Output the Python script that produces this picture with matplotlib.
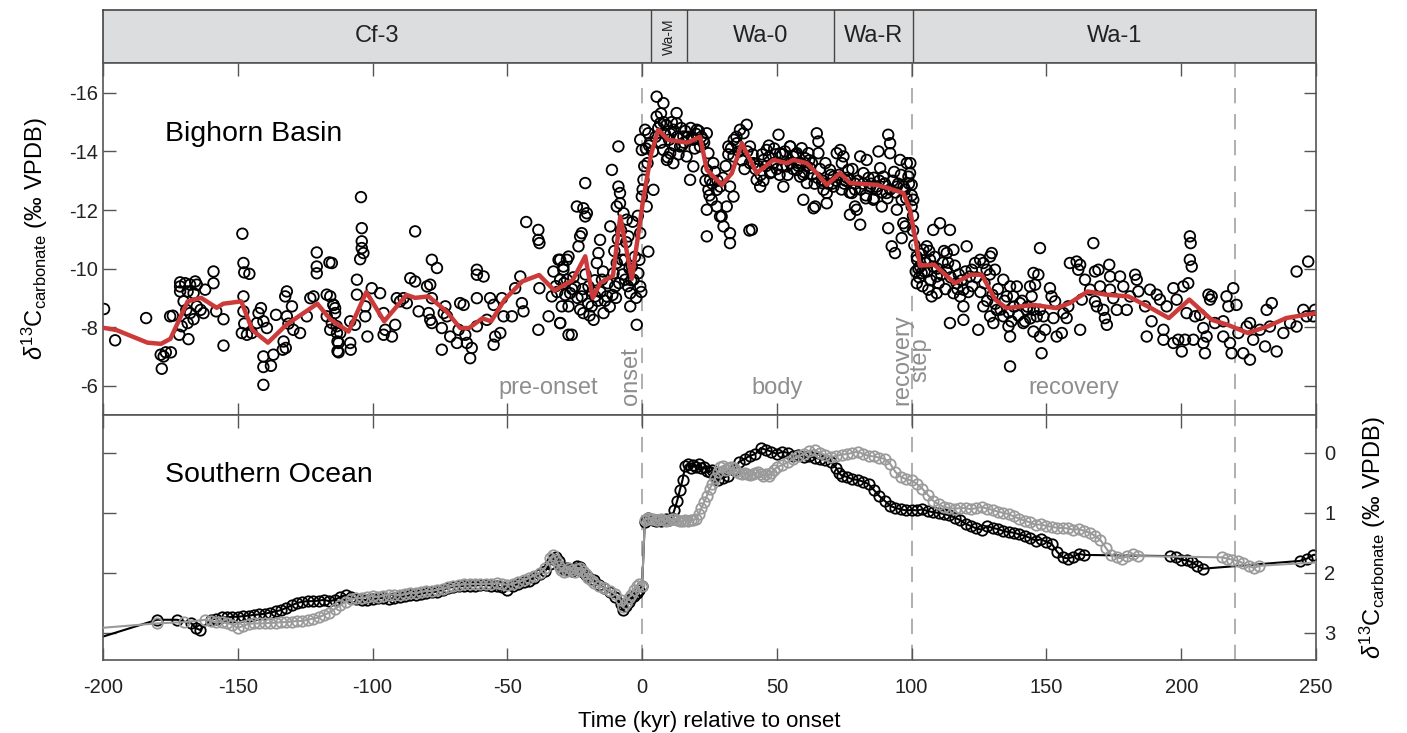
import matplotlib.pyplot as plt

plt.rcParams['font.family'] = ['Liberation Sans', 'DejaVu Sans']
plt.rcParams['mathtext.fontset'] = 'custom'
plt.rcParams['mathtext.rm'] = 'Liberation Sans'
plt.rcParams['mathtext.it'] = 'Liberation Sans:italic'
plt.rcParams['axes.unicode_minus'] = False

# ── zonas bioestratigráficas ────────────────────────────────────────────────
zone_names = ['Cf-3', 'Wa-M', 'Wa-0', 'Wa-R', 'Wa-1']
zone_edges = [-200, 3.3, 16.7, 71.2, 100.5, 250]

# ── Bighorn Basin: puntos (kyr, d13C) ────────────────────────────────────────
bb_cf3_early = [
    (-199.6, -8.62), (-195.5, -7.55), (-184.0, -8.31), (-178.2, -6.58), (-178.6, -7.06), (-176.7, -7.14),
    (-174.8, -7.14), (-177.5, -7.00), (-175.1, -8.37), (-174.1, -8.39), (-171.4, -9.53), (-171.4, -9.39),
    (-169.5, -9.50), (-167.7, -9.45), (-165.8, -9.56), (-165.2, -9.45), (-171.4, -9.22), (-168.6, -9.22),
    (-166.4, -9.16), (-170.1, -8.88), (-169.1, -8.59), (-167.7, -8.48), (-166.4, -8.27), (-168.6, -8.14),
    (-170.8, -8.03), (-171.7, -7.74), (-168.3, -7.59), (-163.8, -8.59), (-162.7, -8.48), (-165.2, -8.71),
    (-162.1, -9.28), (-159.0, -9.90), (-159.0, -9.50), (-158.0, -8.54), (-155.3, -8.27), (-155.3, -7.37),
    (-148.3, -11.19), (-147.9, -10.19), (-147.6, -9.87), (-145.7, -9.82), (-147.9, -9.05), (-147.9, -8.54),
    (-147.6, -8.12), (-148.5, -7.80), (-146.6, -7.74), (-144.8, -7.80), (-142.9, -8.14), (-141.4, -8.65),
    (-142.3, -8.48), (-140.5, -8.20), (-139.2, -7.97), (-140.5, -7.00), (-140.5, -6.64), (-137.7, -6.68),
    (-136.8, -7.06), (-140.5, -6.03), (-135.8, -8.42), (-132.4, -9.05), (-131.8, -9.22), (-129.9, -8.71),
    (-131.8, -8.37), (-131.2, -8.12), (-133.0, -7.51), (-132.2, -7.29), (-133.3, -7.23), (-129.4, -7.91),
    (-126.9, -7.80), (-124.4, -8.37), (-123.1, -8.99), (-121.9, -9.05), (-120.7, -10.55), (-120.7, -10.07),
    (-120.7, -9.84), (-116.0, -10.21), (-117.0, -9.11), (-114.5, -8.76), (-117.0, -8.37), (-115.7, -7.91),
    (-113.2, -7.80), (-113.0, -7.51), (-113.0, -7.18), (-113.9, -8.65),
]
bb_cf3_late = [
    (-115.1, -10.19), (-115.7, -9.05), (-114.5, -8.76), (-113.9, -8.48), (-115.1, -8.14), (-113.3, -8.03),
    (-112.0, -7.80), (-112.6, -7.46), (-112.6, -7.14), (-108.3, -7.46), (-108.1, -7.23), (-108.3, -8.20),
    (-106.5, -8.08), (-105.8, -9.62), (-105.8, -9.11), (-104.3, -12.44), (-104.0, -11.38), (-104.0, -10.93),
    (-104.0, -10.70), (-103.4, -10.53), (-104.6, -10.32), (-102.7, -8.37), (-102.7, -8.71), (-101.9, -7.68),
    (-100.3, -9.33), (-97.2, -9.16), (-95.9, -8.48), (-95.3, -7.91), (-95.9, -7.74), (-92.8, -7.68),
    (-91.6, -8.08), (-91.0, -8.99), (-89.8, -8.88), (-88.5, -8.99), (-87.3, -8.82), (-86.0, -9.67),
    (-84.2, -9.56), (-84.2, -11.27), (-82.9, -8.54), (-79.8, -9.39), (-78.6, -9.45), (-78.0, -8.99),
    (-79.2, -8.48), (-78.6, -8.25), (-78.0, -8.14), (-78.0, -10.30), (-76.1, -10.02), (-73.6, -8.48),
    (-74.3, -7.97), (-73.0, -8.71), (-72.4, -8.37), (-74.3, -7.23), (-71.2, -7.68), (-68.7, -7.46),
    (-68.1, -7.91), (-67.5, -8.82), (-66.2, -8.76), (-65.6, -7.74), (-65.0, -7.46), (-63.8, -6.94),
    (-63.2, -7.29), (-61.3, -8.99), (-61.3, -9.96), (-61.3, -9.79), (-58.8, -9.73), (-61.3, -8.03),
    (-57.6, -8.25), (-56.4, -8.99), (-55.1, -8.76), (-54.5, -7.68), (-55.1, -7.40), (-52.6, -7.80),
    (-52.0, -8.99), (-51.4, -8.37), (-48.3, -8.37), (-47.1, -9.33), (-45.2, -9.73), (-44.6, -8.82),
    (-44.0, -8.54), (-43.0, -11.59), (-38.5, -11.32), (-38.5, -10.98), (-38.1, -10.87), (-38.5, -7.91),
    (-38.1, -9.33), (-34.7, -8.37), (-33.5, -9.05), (-32.9, -9.90), (-31.0, -10.30), (-30.4, -9.62),
    (-30.4, -8.14), (-29.2, -9.96), (-27.9, -10.30), (-27.3, -7.74), (-27.3, -8.71), (-32.0, -9.40),
    (-31.5, -9.20), (-29.0, -9.50), (-28.5, -9.10), (-26.0, -9.30), (-25.5, -9.70),
]
bb_onset = [
    (-30.4, -10.30), (-29.2, -10.07), (-27.9, -9.62), (-26.7, -9.16), (-29.8, -8.71), (-30.4, -8.14),
    (-26.1, -7.74), (-27.3, -10.41), (-24.9, -9.39), (-24.2, -12.12), (-23.0, -11.10), (-22.4, -11.21),
    (-21.8, -12.06), (-21.1, -11.78), (-20.5, -11.89), (-22.4, -9.05), (-21.8, -8.48), (-21.1, -12.92),
    (-23.6, -10.76), (-19.9, -9.39), (-18.7, -8.71), (-18.0, -8.25), (-16.8, -10.19), (-16.2, -10.53),
    (-15.6, -10.98), (-14.9, -9.62), (-14.3, -8.48), (-17.4, -9.05), (-13.1, -9.05), (-11.8, -11.44),
    (-11.2, -13.37), (-10.6, -9.84), (-10.0, -9.39), (-9.4, -10.19), (-8.8, -14.17), (-8.8, -12.80),
    (-8.2, -12.58), (-9.4, -12.12), (-8.2, -12.23), (-6.9, -11.89), (-5.7, -11.67), (-5.1, -11.10),
    (-7.5, -10.30), (-6.3, -9.62), (-4.4, -9.16), (-4.4, -8.71), (-3.8, -10.07), (-3.2, -9.62),
    (-2.0, -8.08), (-1.4, -9.84), (-0.7, -9.39), (-0.7, -11.21), (-0.1, -12.46), (0.5, -13.03),
    (1.7, -12.12), (2.3, -10.58), (-0.7, -14.40), (-0.1, -14.05), (1.1, -14.74), (2.3, -14.62),
    (-24.0, -9.0), (-23.0, -8.6), (-22.0, -9.3), (-21.0, -9.8), (-20.0, -8.8), (-19.5, -8.4),
    (-18.5, -9.2), (-17.5, -9.6), (-16.5, -8.9), (-15.5, -9.2), (-14.5, -9.9), (-13.8, -8.9),
    (-12.8, -9.5), (-12.0, -8.7), (-11.0, -9.1), (-10.3, -10.6), (-9.7, -9.0), (-9.0, -11.0),
    (-8.5, -9.5), (-7.8, -11.3), (-7.2, -9.8), (-6.5, -10.3), (-5.9, -10.9), (-5.3, -9.4),
    (-4.7, -10.0), (-4.0, -9.6), (-3.5, -11.6), (-2.7, -10.4), (-2.2, -9.0), (-1.6, -11.8),
    (-1.0, -10.3), (-0.3, -9.2), (0.2, -12.7), (0.8, -13.5), (1.4, -14.1), (2.0, -13.6), (2.6, -14.2),
]
bb_body = [
    (4.2, -12.69), (5.4, -15.87), (5.4, -15.19), (6.7, -14.96), (7.9, -15.65), (7.9, -14.05),
    (9.2, -13.71), (10.4, -13.94), (11.6, -14.74), (12.8, -15.31), (12.8, -14.96), (11.6, -13.60),
    (14.1, -14.17), (15.3, -14.51), (16.5, -13.83), (17.8, -13.03), (19.0, -13.49), (20.3, -14.74),
    (21.5, -14.17), (22.7, -14.40), (24.0, -14.62), (24.6, -13.94), (24.0, -13.37), (25.2, -13.03),
    (26.4, -13.60), (24.0, -12.01), (24.6, -12.69), (24.0, -11.10), (25.8, -12.35), (27.7, -12.69),
    (27.7, -12.12), (28.9, -11.78), (30.2, -11.44), (31.4, -12.12), (32.6, -12.80), (32.0, -14.17),
    (33.9, -13.83), (35.1, -14.28), (36.3, -14.74), (37.6, -14.62), (38.8, -14.91), (40.0, -14.17),
    (41.3, -13.60), (42.5, -13.03), (43.8, -12.80), (45.0, -13.71), (46.2, -14.05), (47.5, -13.26),
    (48.7, -13.60), (50.6, -14.57), (51.2, -13.94), (52.4, -12.80), (53.7, -13.49), (54.9, -14.17),
    (56.1, -13.83), (57.4, -13.37), (58.6, -13.14), (40.7, -11.33), (39.8, -11.30), (32.6, -11.21),
    (32.6, -10.87), (29.5, -11.78), (33.9, -12.46), (8.5, -14.6), (10.0, -14.4), (14.8, -14.2),
    (18.5, -14.5), (19.5, -14.1), (44.5, -13.9), (47.0, -14.2), (49.5, -13.9), (52.0, -13.5),
    (3.0, -14.3), (4.0, -14.0), (5.0, -14.5), (6.0, -14.8), (7.0, -15.3), (7.0, -14.3), (8.0, -15.0),
    (9.0, -14.9), (9.5, -13.8), (10.5, -14.6), (11.0, -15.0), (12.0, -14.2), (13.0, -14.5),
    (13.5, -13.9), (14.5, -14.8), (15.5, -14.3), (16.0, -14.7), (17.0, -14.5), (18.0, -14.8),
    (19.0, -14.4), (20.0, -14.6), (21.0, -14.7), (22.0, -14.5), (23.0, -14.3), (23.5, -13.0),
    (25.0, -12.5), (26.0, -12.9), (27.0, -13.3), (28.0, -13.0), (29.0, -12.8), (30.0, -13.1),
    (31.0, -13.5), (32.0, -13.9), (33.0, -14.1), (34.0, -14.4), (35.0, -14.5), (36.0, -14.0),
    (37.0, -13.7), (38.0, -13.4), (39.0, -14.0), (40.0, -13.6), (41.0, -13.9), (42.0, -13.4),
    (43.0, -13.5), (44.0, -13.2), (45.0, -13.0), (46.0, -13.5), (47.0, -13.8), (48.0, -13.3),
    (49.0, -14.1), (50.0, -13.4), (51.0, -13.2), (52.0, -13.9), (53.0, -14.0), (54.0, -13.2),
    (55.0, -13.6), (56.0, -13.4), (57.0, -13.9), (58.0, -13.5),
]
bb_wa0_war = [
    (54.9, -14.17), (56.1, -13.83), (57.4, -13.94), (59.2, -14.11), (60.5, -13.77), (61.7, -13.94),
    (62.3, -13.43), (59.8, -13.20), (61.1, -12.92), (59.8, -12.35), (64.2, -12.12), (63.6, -12.06),
    (64.8, -14.62), (65.4, -14.34), (65.4, -13.94), (66.7, -12.92), (67.3, -12.69), (68.5, -12.58),
    (68.5, -12.23), (69.7, -13.37), (71.0, -13.14), (72.2, -13.94), (73.5, -14.05), (74.1, -13.60),
    (74.7, -13.83), (76.5, -13.37), (77.1, -13.03), (77.8, -12.58), (79.0, -12.12), (79.6, -12.01),
    (77.1, -11.84), (80.9, -13.83), (80.9, -11.50), (82.1, -13.26), (83.3, -13.71), (84.6, -12.80),
    (85.8, -12.35), (87.0, -12.69), (87.7, -14.00), (88.3, -13.43), (88.9, -12.12), (89.5, -13.14),
    (90.7, -12.58), (91.3, -14.57), (92.0, -14.28), (92.0, -13.94), (91.3, -11.38), (92.6, -10.76),
    (93.8, -10.53), (94.5, -12.80), (94.5, -12.01), (95.7, -13.71), (96.3, -12.35), (96.9, -11.55),
    (98.2, -13.60), (98.8, -13.14), (99.4, -13.26), (100.0, -12.86), (100.6, -12.35), (96.3, -11.04),
    (97.6, -11.44), (100.0, -12.12), (58.0, -13.6), (63.0, -13.6), (70.5, -12.9), (75.5, -13.0),
    (79.0, -12.7), (83.0, -12.4), (86.0, -13.1), (90.0, -12.9), (93.5, -13.3), (97.5, -12.7),
    (59.0, -13.6), (60.0, -13.3), (61.0, -13.5), (62.0, -13.7), (63.0, -13.2), (64.0, -12.9),
    (65.0, -13.1), (66.0, -13.4), (67.0, -13.0), (68.0, -13.6), (69.0, -12.9), (70.0, -13.2),
    (71.0, -12.8), (72.0, -13.0), (73.0, -13.2), (74.0, -12.7), (75.0, -12.9), (76.0, -13.1),
    (77.0, -12.6), (78.0, -13.4), (79.0, -12.9), (80.0, -13.0), (81.0, -12.7), (82.0, -12.9),
    (83.0, -12.5), (84.0, -13.1), (85.0, -12.9), (86.0, -12.4), (87.0, -12.8), (88.0, -13.0),
    (89.0, -12.6), (90.0, -12.9), (91.0, -12.4), (92.0, -12.7), (93.0, -13.0), (94.0, -12.6),
    (95.0, -12.9), (96.0, -13.2), (97.0, -12.8), (98.0, -12.4), (99.0, -12.9), (99.5, -13.6),
    (100.0, -12.5), (100.5, -11.8), (100.5, -11.3),
]
bb_recovery = [
    (101.9, -10.41), (103.1, -10.07), (104.3, -10.64), (105.6, -10.76), (106.8, -10.30), (108.0, -10.07),
    (109.3, -9.73), (108.0, -11.32), (110.5, -11.55), (113.0, -10.53), (114.2, -11.32), (115.5, -10.64),
    (116.7, -9.50), (118.0, -9.05), (119.2, -8.25), (120.4, -10.76), (121.6, -9.73), (119.2, -9.28),
    (115.5, -9.16), (113.0, -9.96), (101.9, -9.50), (103.7, -9.85), (106.2, -9.28), (107.4, -9.05),
    (109.3, -9.16), (114.2, -8.14), (119.2, -8.71), (122.3, -9.96), (123.5, -10.19), (125.4, -10.30),
    (126.6, -10.19), (127.8, -9.96), (129.1, -10.41), (129.7, -10.53), (130.9, -9.96), (126.6, -8.71),
    (129.1, -8.37), (130.3, -8.14), (131.6, -8.59), (134.0, -9.62), (135.3, -9.05), (136.5, -9.39),
    (137.7, -9.05), (139.0, -9.39), (140.2, -8.82), (141.4, -8.14), (142.7, -8.59), (143.9, -9.39),
    (136.5, -7.68), (136.5, -6.66), (124.7, -7.91), (134.0, -8.37), (135.9, -8.03), (102.5, -10.0),
    (104.8, -9.9), (111.5, -10.2), (117.5, -9.8),
    (101.0, -10.8), (101.5, -9.9), (102.0, -10.3), (102.8, -9.7), (103.5, -10.5), (104.0, -9.4),
    (105.0, -10.2), (105.8, -9.9), (106.5, -10.6), (107.0, -9.6), (108.5, -10.4), (109.5, -10.0),
    (110.0, -9.5), (111.0, -9.8), (112.0, -10.6), (112.5, -9.3), (113.5, -10.2), (114.5, -9.7),
    (116.0, -10.1), (117.0, -9.3), (118.5, -9.6), (120.0, -9.9), (121.0, -9.2), (122.5, -9.4),
    (124.0, -9.7), (125.5, -9.2), (127.0, -9.5), (128.0, -8.9), (129.0, -9.8), (130.0, -9.1),
    (131.0, -8.8), (132.0, -9.3), (133.0, -8.6), (134.5, -8.9), (136.0, -8.5), (137.0, -8.2),
    (138.0, -8.7), (139.5, -8.4), (141.0, -8.9), (142.0, -8.2), (143.0, -8.7), (144.0, -8.3),
    (147.6, -10.70), (145.2, -9.85), (147.0, -9.79), (145.8, -9.45), (144.5, -9.05), (145.2, -8.59),
    (146.4, -8.37), (147.6, -8.59), (148.9, -8.37), (149.5, -7.91), (147.6, -7.68), (148.2, -7.11),
    (145.2, -7.85), (151.3, -9.33), (151.9, -9.05), (153.2, -8.88), (152.6, -8.31), (153.8, -7.68),
    (155.7, -7.80), (156.3, -8.48), (158.1, -8.71), (157.5, -8.31), (158.7, -10.19), (161.2, -10.24),
    (162.5, -10.13), (161.8, -9.96), (162.5, -7.91), (163.1, -8.94), (164.3, -9.62), (166.2, -9.28),
    (167.4, -10.87), (168.0, -9.90), (168.0, -8.88), (169.3, -9.96), (169.9, -9.39), (168.7, -8.71),
    (171.1, -8.59), (171.7, -8.31), (172.4, -8.08), (173.3, -10.13), (173.6, -9.73), (173.6, -9.28),
    (174.8, -8.99), (176.1, -8.59), (177.3, -9.73), (178.5, -9.39), (179.8, -8.59), (181.0, -9.05),
    (182.9, -9.79), (183.5, -9.62), (184.1, -9.22), (186.6, -8.71), (187.2, -7.68), (188.4, -9.28),
    (189.0, -8.20), (190.9, -9.11), (192.1, -8.94), (193.4, -7.91), (193.4, -7.57), (194.6, -8.71),
    (197.1, -9.33), (197.1, -7.46), (198.3, -8.94), (198.9, -7.57), (200.2, -7.17), (200.8, -9.39),
    (201.4, -7.57), (202.0, -8.48), (202.6, -9.50), (203.2, -11.10), (203.5, -10.87), (203.2, -10.30),
    (203.9, -10.07), (204.5, -7.57), (205.1, -8.37), (207.0, -8.42), (208.2, -7.97), (208.2, -7.46),
    (208.8, -7.11), (209.4, -7.68), (210.1, -9.11), (210.7, -8.94), (211.3, -9.05), (212.5, -8.14),
    (215.6, -8.20), (215.6, -7.68), (216.8, -9.05), (217.5, -8.71), (218.1, -7.46), (218.7, -7.11),
    (219.3, -9.33), (220.5, -8.76), (221.2, -7.80), (223.0, -7.11), (224.3, -8.02), (225.5, -8.14),
    (225.5, -6.89), (226.7, -7.57), (229.2, -7.91), (231.1, -7.34), (231.7, -8.59), (232.9, -8.02),
    (233.6, -8.82), (235.4, -7.17), (237.9, -7.80), (240.4, -8.14), (242.8, -8.02), (242.8, -9.90),
    (245.3, -8.59), (246.5, -8.37), (247.1, -10.24), (249.0, -8.37), (249.6, -8.59),
]
bb_smooth = [
    (-200, -7.98), (-195, -7.9), (-183.5, -7.47), (-178.5, -7.43), (-175, -7.6), (-168.6, -8.88),
    (-163.6, -9.0), (-157.8, -8.66), (-155.4, -8.8), (-148.7, -8.88), (-144.6, -7.9), (-138.8, -7.47),
    (-132, -8.08), (-120.5, -8.8), (-115.6, -8.26), (-108.9, -7.85), (-102.3, -9.2), (-95.7, -8.2),
    (-87.4, -9.1), (-84.2, -9.0), (-79.2, -9.05), (-72.6, -8.54), (-67.5, -7.97), (-64.2, -7.97),
    (-59.3, -8.3), (-56, -8.2), (-51, -8.94), (-44.5, -9.56), (-38.2, -9.78), (-32.5, -9.25),
    (-25.8, -9.6), (-21.1, -10.42), (-18.3, -9.0), (-15.6, -9.5), (-10.8, -9.76), (-8.1, -11.78),
    (-3.8, -9.65), (0.4, -12.35), (3.3, -13.9), (6.0, -14.74), (9.6, -14.4), (16.7, -14.3),
    (20.3, -14.45), (21.5, -14.5), (24.0, -13.37), (29.6, -12.86), (33.3, -13.26), (37.0, -14.28),
    (42.5, -13.26), (48.7, -13.71), (53.7, -13.6), (56.1, -13.71), (61.1, -13.6), (64.8, -13.26),
    (68.5, -12.86), (73.4, -13.26), (77.2, -12.92), (87.1, -12.86), (93.2, -12.69), (96.9, -12.58),
    (99.4, -12.0), (101.9, -10.75), (103.1, -10.1), (108.4, -10.13), (116.0, -9.5), (121.8, -9.79),
    (126.0, -9.79), (131.0, -8.94), (135.2, -8.65), (145.2, -8.76), (153.6, -8.65), (158.6, -8.82),
    (165.3, -9.22), (172.0, -9.11), (180.4, -9.05), (188.8, -8.65), (195.4, -8.31), (203.0, -8.94),
    (211.3, -8.25), (217.2, -8.08), (224.7, -7.8), (232.2, -8.03), (238.9, -8.31), (249.8, -8.48),
]

# ── Southern Ocean: dos registros (negro y gris) ─────────────────────────────
so_black = [
    (-210, 3.20), (-180, 2.78), (-172.5, 2.78), (-167.2, 2.84), (-165.5, 2.92), (-164, 2.95),
    (-160, 2.78), (-158, 2.76), (-156, 2.74), (-154, 2.74), (-152, 2.73), (-150, 2.73), (-148, 2.72),
    (-146, 2.71), (-144, 2.70), (-142, 2.69), (-140, 2.68), (-138, 2.66), (-136, 2.64), (-134, 2.62),
    (-132, 2.58), (-130, 2.54), (-128, 2.50), (-126, 2.48), (-124, 2.47), (-122, 2.47), (-120, 2.46),
    (-118, 2.45), (-116, 2.47), (-114, 2.45), (-112, 2.40), (-110, 2.37), (-108, 2.40), (-106, 2.43),
    (-104, 2.45), (-102, 2.45), (-100, 2.44), (-98, 2.42), (-96, 2.42), (-94, 2.43), (-92, 2.42),
    (-90, 2.40), (-88, 2.39), (-86, 2.37), (-84, 2.37), (-82, 2.35), (-80, 2.33), (-78, 2.32),
    (-76, 2.31), (-74, 2.28), (-72, 2.25), (-70, 2.23), (-68, 2.22), (-66, 2.22), (-64, 2.21),
    (-62, 2.21), (-60, 2.20), (-58, 2.20), (-56, 2.21), (-54, 2.22), (-52, 2.24), (-50, 2.28),
    (-48, 2.22), (-46, 2.18), (-44, 2.15), (-42, 2.13), (-40, 2.08), (-38, 2.02), (-36, 1.97),
    (-34, 1.85), (-33, 1.76), (-32, 1.74), (-31, 1.80), (-30, 1.90), (-29, 1.93), (-28, 1.92),
    (-27, 1.95), (-26, 1.97), (-25, 1.93), (-24, 1.88), (-23, 1.90), (-22, 1.98), (-21, 2.04),
    (-20, 2.07), (-18, 2.12), (-16, 2.20), (-14, 2.25), (-12, 2.32), (-10, 2.40), (-8, 2.52),
    (-7, 2.62), (-6, 2.55), (-5, 2.48), (-4, 2.42), (-3, 2.38), (-2, 2.33), (-1, 2.28), (0, 2.22),
    (1, 1.15), (2, 1.08), (3, 1.10), (4, 1.12), (5, 1.13), (6, 1.12), (7, 1.14), (8, 1.12),
    (9, 1.11), (10, 1.12), (11, 1.08), (12, 0.95), (13, 0.80), (14, 0.62), (15, 0.45), (16, 0.22),
    (17, 0.18), (18, 0.25), (19, 0.20), (20, 0.23), (21, 0.18), (22, 0.26), (23, 0.24), (24, 0.30),
    (25, 0.32), (26, 0.28), (27, 0.38), (28, 0.45), (30, 0.42), (32, 0.38), (34, 0.28), (36, 0.15),
    (38, 0.10), (40, 0.05), (42, 0.02), (44, -0.08), (46, -0.05), (48, -0.02), (50, 0.02),
    (52, -0.02), (54, 0.00), (56, 0.05), (58, 0.03), (60, 0.07), (62, 0.06), (64, 0.08), (66, 0.10),
    (68, 0.12), (70, 0.15), (72, 0.25), (73, 0.33), (74, 0.38), (76, 0.40), (78, 0.44), (80, 0.45),
    (82, 0.48), (84, 0.52), (86, 0.62), (88, 0.72), (90, 0.80), (92, 0.88), (94, 0.92), (96, 0.94),
    (98, 0.96), (100, 0.95), (102, 0.96), (104, 0.94), (106, 0.97), (108, 0.99), (110, 1.00),
    (112, 1.02), (114, 1.04), (116, 1.08), (118, 1.12), (120, 1.18), (122, 1.22), (124, 1.26),
    (126, 1.28), (128, 1.22), (130, 1.25), (132, 1.27), (134, 1.30), (136, 1.32), (138, 1.33),
    (140, 1.36), (142, 1.38), (144, 1.42), (146, 1.46), (148, 1.44), (150, 1.48), (152, 1.52),
    (154, 1.65), (156, 1.74), (158, 1.76), (160, 1.73), (162, 1.68), (164, 1.70),
    (196, 1.72), (198, 1.74), (200, 1.78), (202, 1.79), (204, 1.82), (206, 1.88), (208, 1.93),
    (244, 1.80), (246.7, 1.76), (249, 1.70), (260, 1.66),
]
so_gray = [
    (-210, 2.95), (-180, 2.84), (-170, 2.82), (-162, 2.78), (-160, 2.80), (-158, 2.82), (-156, 2.82),
    (-154, 2.83), (-152, 2.86), (-150, 2.92), (-148, 2.88), (-146, 2.85), (-144, 2.84), (-142, 2.84),
    (-140, 2.84), (-138, 2.83), (-136, 2.83), (-134, 2.82), (-132, 2.82), (-130, 2.81), (-128, 2.80),
    (-126, 2.80), (-124, 2.78), (-122, 2.76), (-120, 2.74), (-118, 2.70), (-116, 2.66), (-114, 2.60),
    (-112, 2.54), (-110, 2.48), (-108, 2.44), (-106, 2.42), (-104, 2.42), (-102, 2.40), (-100, 2.38),
    (-98, 2.40), (-96, 2.38), (-94, 2.36), (-92, 2.36), (-90, 2.37), (-88, 2.35), (-86, 2.33),
    (-84, 2.34), (-82, 2.31), (-80, 2.30), (-78, 2.30), (-76, 2.28), (-74, 2.26), (-72, 2.24),
    (-70, 2.21), (-68, 2.20), (-66, 2.19), (-64, 2.19), (-62, 2.18), (-60, 2.19), (-58, 2.18),
    (-56, 2.18), (-54, 2.17), (-52, 2.18), (-50, 2.20), (-48, 2.18), (-46, 2.15), (-44, 2.12),
    (-42, 2.08), (-40, 2.05), (-38, 2.00), (-36, 1.92), (-34, 1.75), (-33, 1.70), (-32, 1.78),
    (-31, 1.88), (-30, 1.95), (-29, 1.98), (-28, 1.96), (-27, 1.92), (-26, 1.95), (-25, 1.98),
    (-24, 1.94), (-23, 1.92), (-22, 1.96), (-21, 2.02), (-20, 2.08), (-19, 2.12), (-18, 2.16),
    (-16, 2.22), (-14, 2.25), (-12, 2.30), (-10, 2.35), (-8, 2.45), (-7, 2.56), (-6, 2.50),
    (-5, 2.42), (-4, 2.36), (-3, 2.28), (-2, 2.22), (-1, 2.18), (0, 2.21),
    (1, 1.12), (2, 1.09), (3, 1.10), (4, 1.11), (5, 1.12), (6, 1.12), (7, 1.11), (8, 1.12),
    (9, 1.13), (10, 1.12), (11, 1.10), (12, 1.11), (13, 1.12), (14, 1.14), (15, 1.14), (16, 1.12),
    (17, 1.13), (18, 1.12), (19, 1.12), (20, 1.10), (21, 1.02), (22, 0.92), (23, 0.82), (24, 0.72),
    (25, 0.60), (26, 0.52), (27, 0.42), (28, 0.32), (29, 0.24), (30, 0.22), (31, 0.28), (32, 0.26),
    (33, 0.24), (34, 0.26), (35, 0.30), (36, 0.34), (37, 0.35), (38, 0.34), (39, 0.36), (40, 0.37),
    (41, 0.36), (42, 0.34), (43, 0.32), (44, 0.35), (45, 0.38), (46, 0.36), (47, 0.38), (48, 0.34),
    (49, 0.28), (50, 0.24), (52, 0.20), (54, 0.16), (56, 0.10), (58, 0.06), (60, 0.02), (62, -0.03),
    (64, -0.05), (66, 0.00), (68, 0.04), (70, 0.07), (72, 0.05), (74, 0.03), (76, 0.02), (78, 0.00),
    (80, -0.02), (82, 0.02), (84, 0.05), (86, 0.06), (88, 0.08), (90, 0.10), (92, 0.18), (94, 0.32),
    (96, 0.40), (98, 0.44), (100, 0.46), (102, 0.52), (104, 0.60), (106, 0.70), (108, 0.80),
    (110, 0.86), (112, 0.90), (114, 0.92), (116, 0.93), (118, 0.92), (120, 0.92), (122, 0.94),
    (124, 0.92), (126, 0.90), (128, 0.93), (130, 0.95), (132, 0.98), (134, 1.00), (136, 1.02),
    (138, 1.06), (140, 1.10), (142, 1.13), (144, 1.16), (146, 1.20), (148, 1.19), (150, 1.22),
    (152, 1.23), (154, 1.25), (156, 1.25), (158, 1.26), (160, 1.28), (162, 1.27), (164, 1.30),
    (166, 1.33), (168, 1.38), (170, 1.45), (172, 1.58), (174, 1.70), (176, 1.74), (178, 1.76),
    (180, 1.72), (182, 1.68), (184, 1.72),
    (215, 1.74), (217, 1.76), (219, 1.78), (221, 1.80), (223, 1.84), (225, 1.88), (227, 1.92),
    (229, 1.88), (260, 1.80),
]

dashed_at = [0, 100, 220]

SPINE = '#555555'
GREY_TXT = '#8e8e8e'
RED = '#cc3a3a'
YLAB = r'$\delta^{13}$C$_{\rm carbonate}$ (‰ VPDB)'

fig = plt.figure(figsize=(14.07, 7.33), dpi=100)
L, W = 103 / 1407, 1213 / 1407
ax_z = fig.add_axes([L, 1 - 63 / 733, W, 53 / 733])
ax1 = fig.add_axes([L, 1 - 415 / 733, W, 352 / 733])
ax2 = fig.add_axes([L, 1 - 660 / 733, W, 245 / 733])

# ── franja de zonas ──────────────────────────────────────────────────────────
ax_z.set_xlim(-200, 250)
ax_z.set_ylim(0, 1)
ax_z.set_facecolor('#dcdddf')
ax_z.set_xticks([])
ax_z.set_yticks([])
for sp in ax_z.spines.values():
    sp.set_color('#444444')
    sp.set_linewidth(1.2)
for i, name in enumerate(zone_names):
    a, b = zone_edges[i], zone_edges[i + 1]
    if i > 0:
        ax_z.axvline(a, color='#444444', lw=1.0)
    if name == 'Wa-M':
        ax_z.text((a + b) / 2, 0.5, name, rotation=90, ha='center', va='center', fontsize=10, color='#222222')
    else:
        ax_z.text((a + b) / 2, 0.5, name, ha='center', va='center', fontsize=17, color='#222222')


def style(ax):
    ax.set_xlim(-200, 250)
    ax.set_xticks(range(-200, 251, 50))
    ax.tick_params(direction='in', length=9, width=1, colors=SPINE, labelcolor='#222222',
                   top=True, right=True, labelsize=14.5)
    for sp in ax.spines.values():
        sp.set_color(SPINE)
        sp.set_linewidth(1.2)
    for xd in dashed_at:
        ax.axvline(xd, color='#9a9a9a', lw=1.1, dashes=(10, 7), zorder=0)


# ── panel superior: Bighorn Basin ────────────────────────────────────────────
style(ax1)
ax1.set_ylim(-5.0, -17.02)
ax1.set_yticks([-16, -14, -12, -10, -8, -6])
ax1.tick_params(labelbottom=False)
for seg in (bb_cf3_early, bb_cf3_late, bb_onset, bb_body, bb_wa0_war, bb_recovery):
    xs, ys = zip(*seg)
    ax1.scatter(xs, ys, s=58, facecolors='none', edgecolors='black', linewidths=1.3, zorder=2)
sx, sy = zip(*bb_smooth)
ax1.plot(sx, sy, color=RED, lw=3.2, zorder=3, solid_joinstyle='round')
ax1.set_ylabel(YLAB, fontsize=17, labelpad=14)

ax1.text(-177, -14.6, 'Bighorn Basin', fontsize=20.5, va='center', ha='left')
ax1.text(-35, -5.55, 'pre-onset', fontsize=17, color=GREY_TXT, ha='center', va='bottom')
ax1.text(50, -5.55, 'body', fontsize=17, color=GREY_TXT, ha='center', va='bottom')
ax1.text(160, -5.55, 'recovery', fontsize=17, color=GREY_TXT, ha='center', va='bottom')
ax1.text(-4.2, -5.35, 'onset', fontsize=17, color=GREY_TXT, rotation=90, ha='center', va='bottom')
ax1.text(100, -5.35, 'recovery\nstep', fontsize=17, color=GREY_TXT, rotation=90, ha='center',
         va='bottom', linespacing=0.75)

# ── panel inferior: Southern Ocean ───────────────────────────────────────────
style(ax2)
ax2.set_ylim(3.45, -0.63)
ax2.set_yticks([0, 1, 2, 3])
ax2.tick_params(labelleft=False, labelright=True)
ax2.tick_params(axis='x', pad=13)
ax2.tick_params(axis='y', pad=6)
bx, by = zip(*so_black)
ax2.plot(bx, by, '-o', color='black', lw=1.5, ms=7.5, mfc='none', mew=1.3, zorder=2)
gx, gy = zip(*so_gray)
ax2.plot(gx, gy, '-o', color='#9a9a9a', lw=1.5, ms=7.5, mfc='none', mew=1.3, zorder=3)
ax2.yaxis.set_label_position('right')
ax2.set_ylabel(YLAB, fontsize=17, labelpad=16)
ax2.text(-177, 0.37, 'Southern Ocean', fontsize=20.5, va='center', ha='left')
ax2.set_xlabel('Time (kyr) relative to onset', fontsize=16, labelpad=10)

fig.savefig('out.png', dpi=100)
